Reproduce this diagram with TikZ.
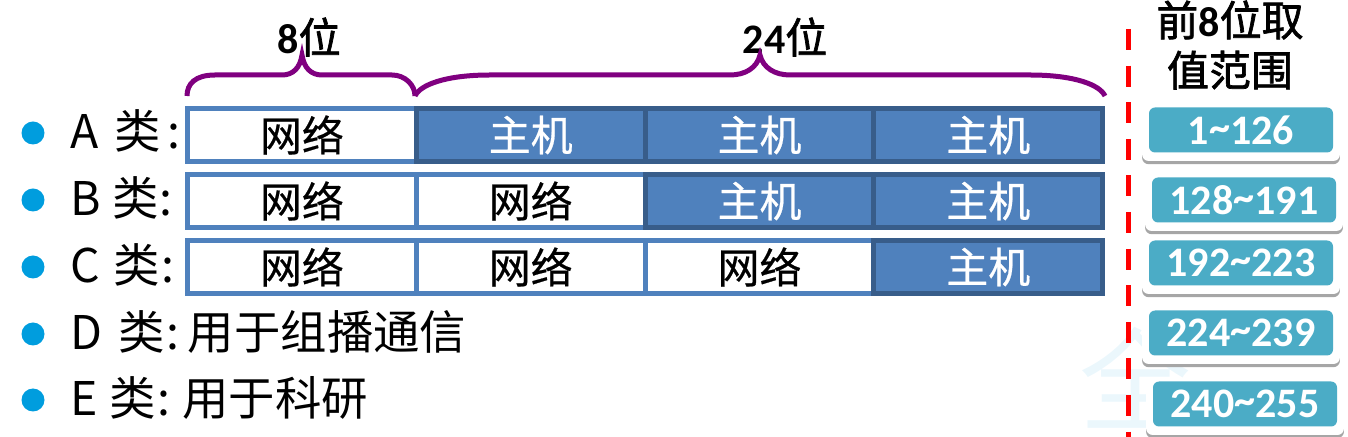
\documentclass[tikz,border=0pt]{standalone}
\usepackage{fontspec}
\setmainfont{Carlito}
\newfontfamily\cjk{Noto Sans CJK SC}
\newfontfamily\cjkmed[FakeBold=0.5]{Noto Sans CJK SC}
\newfontfamily\cjkhead[FakeBold=1.6]{Noto Sans CJK SC}
\usepackage{xcolor}
\definecolor{cellblue}{HTML}{4F81BD}
\definecolor{celldark}{HTML}{385D8A}
\definecolor{braceviolet}{HTML}{800080}
\definecolor{dotblue}{HTML}{009DDE}
\definecolor{rangeteal}{HTML}{4BACC6}
\definecolor{markfaint}{HTML}{EBF7FC}
\usetikzlibrary{positioning, calc, shadows}
\newcommand{\rangetilde}{\raisebox{1.5pt}{\textasciitilde}}

\begin{document}
\begin{tikzpicture}[x=0.5pt, y=-0.5pt, node distance=0pt]
        % Define block styles
        \tikzset{netcell/.style={rectangle, draw=cellblue, fill=white, line width=2.5pt, outer sep=0pt, inner sep=0pt, minimum width=114.4pt, minimum height=26.5pt, font=\cjkmed\fontsize{21}{24}\selectfont}}
        \tikzset{hostcell/.style={netcell, draw=celldark, fill=cellblue, text=white}}
        \tikzset{dot/.style={circle, fill=dotblue, inner sep=0pt, minimum size=11.5pt}}
        \tikzset{classlabel/.style={right, inner sep=0pt, font=\cjk\fontsize{23.2}{27}\selectfont}}
        \tikzset{rangebox/.style={rectangle, rounded corners=3pt, fill=rangeteal, text=white, inner sep=0pt, minimum width=92pt, minimum height=22.5pt, font=\bfseries\fontsize{21}{24}\selectfont,
            general shadow={fill=black!35, shadow scale=1.075, shadow yshift=-4.65pt},
            general shadow={fill=white, shadow scale=1.075, shadow yshift=-3.15pt}}}
        \tikzset{brace/.style={draw=braceviolet, line width=2.5pt}}
        \tikzset{bitlabel/.style={inner sep=0pt, font=\bfseries\fontsize{21}{24}\selectfont}}

        \useasboundingbox (0,0) rectangle (1348,437);

        % Background mark
        \node [inner sep=0pt, text=markfaint, font=\cjk\fontsize{56}{60}\selectfont] (mark) at (1135,378) {全};

        % Class A
        \node [netcell, anchor=north west] (a1) at (187.5,108.5) {网络};
        \node [hostcell, right=of a1] (a2) {主机};
        \node [hostcell, right=of a2] (a3) {主机};
        \node [hostcell, right=of a3] (a4) {主机};

        % Class B
        \node [netcell, anchor=north west] (b1) at (187.5,174.5) {网络};
        \node [netcell, right=of b1] (b2) {网络};
        \node [hostcell, right=of b2] (b3) {主机};
        \node [hostcell, right=of b3] (b4) {主机};

        % Class C
        \node [netcell, anchor=north west] (c1) at (187.5,240.5) {网络};
        \node [netcell, right=of c1] (c2) {网络};
        \node [netcell, right=of c2] (c3) {网络};
        \node [hostcell, right=of c3] (c4) {主机};

        % Lists
        \node [dot] (dota) at (33,133) {};
        \node [dot] (dotb) at (33,200) {};
        \node [dot] (dotc) at (33,267) {};
        \node [dot] (dotd) at (33,334) {};
        \node [dot] (dote) at (33,400) {};
        \node [classlabel] (labela) at (70,131) {A\hspace{3pt} 类\hspace{3pt}:};
        \node [classlabel] (labelb) at (70,198) {B\hspace{0.5pt} 类\hspace{0.5pt}:};
        \node [classlabel] (labelc) at (70,265) {C\hspace{1.5pt} 类\hspace{1pt}:};
        \node [classlabel] (labeld) at (70,332) {D\hspace{3pt} 类\hspace{0.5pt}:\hspace{4.5pt}用于组播通信};
        \node [classlabel] (labele) at (70,398) {E\hspace{0.5pt} 类\hspace{1pt}:\hspace{-1pt} 用于科研};

        % Braces
        \node [bitlabel] (bits8) at (309,37) {8{\mdseries\cjkhead 位}};
        \node [bitlabel] (bits24) at (785,37) {24{\mdseries\cjkhead 位}};
        \coordinate (tip8) at (302,55);
        \coordinate (tip24) at (760,55);
        \coordinate (start8) at (187,96);
        \coordinate (mid8) at (415,96);
        \coordinate (end24) at (1105,96);
        \draw [brace] (start8) .. controls (187,84) and (195,75) .. (215,75) -- (282,75) .. controls (293,75) and (300,68) .. (tip8) .. controls (304,68) and (311,75) .. (322,75) -- (392,75) .. controls (405,75) and (415,85) .. (mid8);
        \draw [brace] (mid8) .. controls (420,85) and (445,75) .. (490,75) -- (730,75) .. controls (745,75) and (757,68) .. (tip24) .. controls (763,68) and (775,75) .. (790,75) -- (1030,75) .. controls (1075,75) and (1100,85) .. (end24);

        % Separator
        \coordinate (sepTop) at (1128,29);
        \coordinate (sepEnd) at (1128,437);
        \draw [red, line width=2.5pt, dash pattern=on 10.5pt off 7.8pt] (sepTop) -- (sepEnd);

        % Ranges
        \node [align=center, inner sep=0pt, font=\cjkhead\fontsize{21}{25}\selectfont] (title) at (1230,45) {前{\rmfamily\bfseries 8}位取\\值范围};
        \node [rangebox] (r1) at (1241,130) {1\rangetilde126};
        \node [rangebox] (r2) at (1244,200) {128\rangetilde191};
        \node [rangebox] (r3) at (1241,263) {192\rangetilde223};
        \node [rangebox] (r4) at (1241,333) {224\rangetilde239};
        \node [rangebox] (r5) at (1245,404) {240\rangetilde255};

    \end{tikzpicture}
\end{document}
